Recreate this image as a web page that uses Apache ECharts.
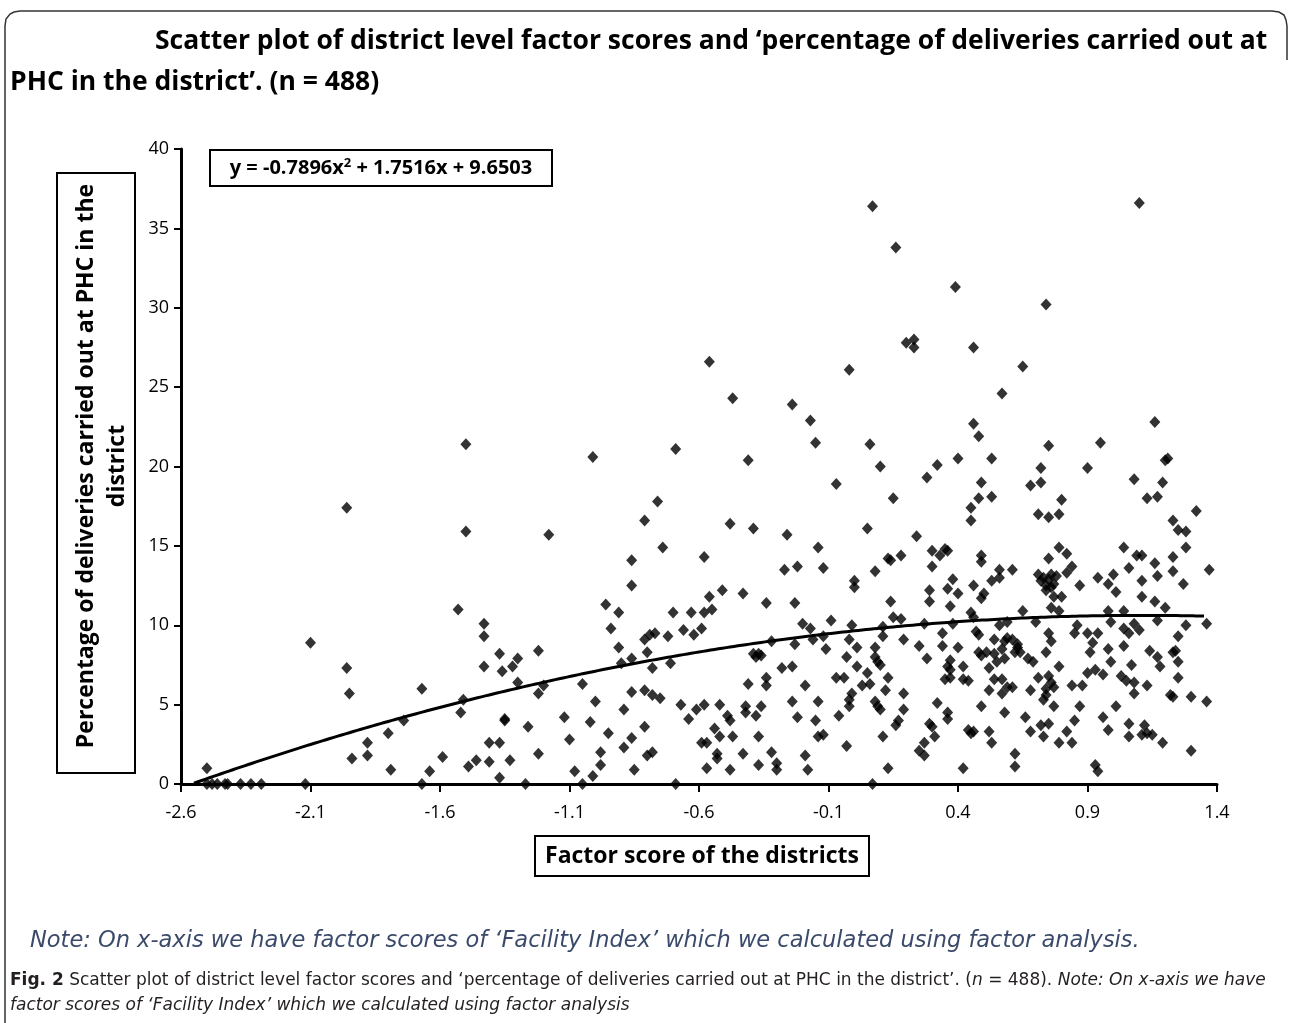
<!DOCTYPE html>
<html>
<head>
<meta charset="utf-8">
<script src="https://cdn.jsdelivr.net/npm/echarts@6/dist/echarts.min.js"></script>
<style>
  html, body { margin: 0; padding: 0; background: #fff; }
  #chart { width: 1290px; height: 1023px; }
</style>
</head>
<body>
<div id="chart"></div>
<script>
// factor score of the district (x) and % of deliveries at PHC (y)
const factorScore = [
  -2.50, -2.50, -2.48, -2.46, -2.43, -2.42, -2.37, -2.33, -2.29, -2.12, -2.10,
  -1.96, -1.96, -1.95, -1.94, -1.88, -1.88, -1.80, -1.79, -1.74, -1.67, -1.67, -1.64, -1.59,
  -1.53, -1.50, -1.50, -1.52, -1.51, -1.49, -1.46, -1.43, -1.43, -1.43, -1.41, -1.41,
  -1.37, -1.37, -1.37, -1.36, -1.35, -1.35, -1.33, -1.32, -1.30, -1.30,
  -1.27, -1.26, -1.22, -1.22, -1.20, -1.22, -1.18, -1.12, -1.10, -1.08, -1.05, -1.05,
  -1.02, -1.01, -1.00, -1.01, -0.98, -0.98, -0.96, -0.95, -0.94, -0.91, -0.91, -0.90,
  -0.89, -0.89, -0.86, -0.86, -0.86, -0.86, -0.86, -0.85, -0.81, -0.81, -0.79, -0.77,
  -0.76, -0.80, -0.78, -0.81, -0.78, -0.75, -0.81, -0.80, -0.78, -0.74, -0.72, -0.71,
  -0.70, -0.69, -0.69, -0.67, -0.66, -0.64, -0.63, -0.62, -0.61, -0.59, -0.59, -0.58,
  -0.58, -0.57, -0.57, -0.58, -0.56, -0.55, -0.54, -0.53, -0.53, -0.52, -0.52, -0.51,
  -0.48, -0.49, -0.48, -0.48, -0.47, -0.47, -0.43, -0.43, -0.42, -0.42, -0.41, -0.41,
  -0.39, -0.38, -0.37, -0.36, -0.39, -0.38, -0.37, -0.37, -0.36, -0.34, -0.34, -0.34,
  -0.32, -0.32, -0.30, -0.30, -0.28, -0.27, -0.26, -0.24, -0.24, -0.24, -0.23, -0.23,
  -0.22, -0.22, -0.20, -0.19, -0.19, -0.18, -0.17, -0.17, -0.16, -0.15, -0.14, -0.14,
  -0.15, -0.14, -0.12, -0.12, -0.11, -0.12, -0.56,
  -0.09, -0.07, -0.07, -0.04, -0.06, -0.03, -0.03, -0.02, -0.02, 0.00, 0.00,
  0.07, 0.16, 0.39, 0.74, 1.10, 0.20, 0.23, 0.23, 0.46, 0.65, 0.57, 0.46, 0.48, 0.06,
  0.75, 0.95, 1.16, 0.40, 0.53, 1.21, 0.10, 0.15, 0.05, 0.32, 0.28, 0.49, 0.48, 0.53,
  0.45, 0.45, 0.24, 0.30, 0.33, 0.35, 0.36, 0.13, 0.14, 0.18, 0.08, 0.30, 0.49, 0.49,
  0.14, 0.15, 0.18, 0.29, 0.29, 0.36, 0.38, 0.40, 0.37, 0.46, 0.50, 0.49,
  0.56, 0.53, 0.56, 0.61, 0.45, 0.46, 0.65, -0.01, 0.11, 0.11, 0.27, 0.38, 0.34, 0.47,
  0.48, 0.56, 0.59, 0.01, 0.19, 0.25, 0.34, 0.40, 0.54, 0.48, 0.49, 0.51, 0.54, 0.58,
  0.59, 0.57, 0.63, 0.67, 0.08, 0.08, 0.09, 0.10, 0.01, 0.28, 0.37, 0.36, 0.37, 0.42,
  0.58, 0.55, 0.52, 0.05, 0.13, 0.03, 0.06, 0.35, 0.37, 0.42, 0.44, 0.54, 0.57, 0.59,
  0.52, 0.57, 0.12, 0.19, -0.01, -0.02, -0.02, 0.08, 0.09, 0.10, 0.19, 0.32, 0.36, 0.36,
  0.49, 0.58, 0.17, 0.16, 0.29, 0.30, 0.31, 0.44, 0.45, 0.46, 0.52, 0.11, 0.27, 0.25,
  0.27, 0.53, 0.62, 0.13, 0.42, 0.62, 0.07,
  0.72, 0.90, 1.20, 0.68, 0.72, 1.08, 1.19, 1.13, 1.17, 0.80, 0.71, 0.75, 0.79, 1.32,
  1.23, 1.25, 1.28, 0.79, 0.82, 1.04, 1.09, 1.11, 1.28, 1.23, 0.75, 0.84, 1.06, 1.16,
  1.37, 0.71, 0.72, 0.73, 0.74, 0.75, 0.76, 0.77, 0.78, 0.74, 0.76, 0.82, 0.87, 0.94,
  1.00, 0.98, 1.01, 1.11, 1.17, 1.23, 1.27, 0.77, 0.80, 0.76, 0.79, 1.11, 1.16, 1.20,
  0.98, 1.04, 0.70, 0.99, 1.17, 1.28, 1.36, 0.86, 0.85, 0.90, 0.94, 1.04, 1.06, 1.08,
  1.10, 0.75, 0.76, 0.92, 0.91, 0.98, 1.04, 1.25, 1.24, 1.23, 1.14, 1.17, 1.18, 0.61,
  0.63, 0.62, 0.64, 0.69, 0.74, 0.99, 1.07, 1.25, 0.79, 0.90, 0.93, 0.96, 1.03, 1.05,
  1.08, 1.25, 0.71, 0.75, 0.76, 0.77, 0.61, 0.68, 0.74, 0.74, 0.73, 0.84, 0.88, 1.08,
  1.13, 1.22, 1.23, 1.30, 1.36, 0.77, 0.87, 1.01, 0.66, 0.72, 0.75, 0.85, 0.96, 0.68,
  0.73, 0.82, 0.98, 1.06, 1.06, 1.12, 1.11, 1.13, 1.15, 1.19, 0.79, 0.84, 1.30, 0.93, 0.94
];
const phcPct = [
  1.0, 0, 0, 0, 0, 0, 0, 0, 0, 0, 8.9,
  17.4, 7.3, 5.7, 1.6, 2.6, 1.8, 3.2, 0.9, 4.0, 6.0, 0, 0.8, 1.7,
  11.0, 21.4, 15.9, 4.5, 5.3, 1.1, 1.5, 10.1, 9.3, 7.4, 2.6, 1.4,
  0.4, 8.2, 2.6, 7.1, 4.1, 4.0, 1.5, 7.4, 7.9, 6.4,
  0, 3.6, 8.4, 5.7, 6.2, 1.9, 15.7, 4.2, 2.8, 0.8, 6.3, 0,
  3.9, 20.6, 5.2, 0.5, 2.0, 1.2, 11.3, 3.2, 9.8, 10.8, 8.6, 7.6,
  4.7, 2.3, 12.5, 14.1, 7.9, 5.8, 2.9, 0.9, 16.6, 9.1, 9.4, 9.5,
  17.8, 8.3, 7.3, 5.9, 5.6, 5.4, 3.6, 1.8, 2.0, 14.9, 9.3, 7.6,
  10.8, 0, 21.1, 5.0, 9.7, 4.1, 10.8, 9.4, 4.7, 9.8, 2.6, 10.8,
  14.3, 2.6, 1.0, 5.0, 11.8, 11.0, 3.5, 1.9, 1.6, 5.0, 3.0, 12.2,
  4.0, 4.3, 0.9, 16.4, 24.3, 3.0, 12.0, 1.9, 4.9, 4.5, 20.4, 6.3,
  8.2, 8.0, 8.2, 8.1, 16.1, 4.3, 3.0, 1.2, 4.9, 6.7, 11.4, 6.2,
  2.0, 9.0, 1.3, 0.9, 7.3, 13.5, 15.7, 23.9, 5.2, 7.4, 11.4, 8.8,
  13.7, 4.2, 10.1, 6.2, 1.8, 0.9, 22.9, 9.8, 9.1, 21.5, 14.9, 5.2,
  4.0, 3.0, 13.6, 9.3, 8.5, 3.1, 26.6,
  10.3, 18.9, 6.7, 6.7, 4.3, 2.4, 8.0, 9.1, 26.1, 12.8, 12.4,
  36.4, 33.8, 31.3, 30.2, 36.6, 27.8, 28.0, 27.5, 27.5, 26.3, 24.6, 22.7, 21.9, 21.4,
  21.3, 21.5, 22.8, 20.5, 20.5, 20.5, 20.0, 18.0, 16.1, 20.1, 19.3, 19.0, 18.0, 18.1,
  17.4, 16.6, 15.6, 14.7, 14.4, 14.8, 14.7, 14.2, 14.1, 14.4, 13.4, 13.7, 14.4, 14.0,
  11.5, 10.5, 10.4, 12.2, 11.5, 12.3, 12.9, 12.0, 11.2, 12.5, 12.0, 11.7,
  13.5, 12.8, 13.0, 13.5, 10.8, 10.5, 10.9, 10.0, 9.9, 9.3, 10.1, 10.1, 9.5, 9.6,
  9.4, 10.0, 10.2, 8.6, 9.1, 8.7, 8.7, 8.6, 9.1, 8.3, 8.1, 8.3, 8.2, 9.0,
  9.2, 8.5, 8.6, 7.9, 8.6, 8.0, 7.7, 7.5, 7.4, 7.9, 7.8, 7.4, 7.2, 7.4,
  7.9, 7.7, 7.3, 7.0, 6.7, 6.2, 6.3, 6.6, 6.7, 6.6, 6.5, 6.6, 6.6, 6.1,
  5.9, 5.7, 5.9, 5.7, 5.7, 5.3, 4.9, 5.2, 4.9, 4.7, 4.7, 5.1, 4.5, 4.1,
  4.9, 4.5, 4.0, 3.7, 3.8, 3.6, 3.0, 3.4, 3.2, 3.3, 3.3, 3.0, 2.6, 2.1,
  1.8, 2.6, 1.9, 1.0, 1.0, 1.1, 0.0,
  19.9, 19.9, 20.4, 18.8, 19.0, 19.2, 19.0, 18.0, 18.1, 17.9, 17.0, 16.8, 17.0, 17.2,
  16.6, 16.0, 15.9, 14.9, 14.5, 14.9, 14.4, 14.4, 14.9, 14.3, 14.2, 13.7, 13.6, 13.9,
  13.5, 13.2, 12.8, 13.0, 12.5, 12.9, 13.2, 12.6, 13.1, 12.2, 12.4, 13.3, 12.5, 13.0,
  13.2, 12.6, 12.1, 12.8, 13.1, 13.4, 12.6, 11.8, 11.8, 11.1, 10.9, 11.8, 11.5, 11.1,
  10.9, 10.9, 10.2, 10.2, 10.3, 10.0, 10.1, 10.0, 9.5, 9.5, 9.5, 9.8, 9.5, 10.1,
  9.7, 9.5, 9.0, 8.9, 8.3, 8.5, 8.7, 9.3, 8.4, 8.3, 8.4, 8.0, 7.4, 9.1,
  8.8, 8.3, 8.3, 7.7, 8.3, 7.7, 7.5, 7.7, 7.4, 7.0, 7.2, 6.9, 6.8, 6.5,
  6.4, 6.7, 6.7, 6.8, 6.4, 6.1, 6.1, 5.9, 6.0, 5.6, 5.3, 6.2, 6.2, 5.7,
  6.2, 5.6, 5.5, 5.5, 5.2, 4.9, 4.9, 4.9, 4.2, 3.7, 3.8, 4.0, 4.2, 3.3,
  3.0, 3.3, 3.4, 3.8, 3.0, 3.7, 3.1, 3.2, 3.1, 2.6, 2.6, 2.6, 2.1, 1.2, 0.8
];
const xTicks = [-2.6, -2.1, -1.6, -1.1, -0.6, -0.1, 0.4, 0.9, 1.4];
const yTicks = [0, 5, 10, 15, 20, 25, 30, 35, 40];
// polynomial trend shown in the figure: y = a x^2 + b x + c
const trendCoef = { a: -0.7896, b: 1.7516, c: 9.6503 };
const trendRange = [-2.55, 1.36];

const chart = echarts.init(document.getElementById("chart"));

let points = factorScore.map((x, i) => [x, phcPct[i]]);
let trend = [];
for (let x = trendRange[0]; x <= trendRange[1] + 1e-9; x += 0.03) {
  trend.push([x, trendCoef.a * x * x + trendCoef.b * x + trendCoef.c]);
}

const FONT = "Open Sans";

let option = {
  backgroundColor: "#fff",
  animation: false,
  grid: { left: 181, right: 73, top: 149, bottom: 239 },
  xAxis: {
    type: "value",
    min: xTicks[0],
    max: xTicks[xTicks.length - 1],
    interval: 0.5,
    axisLine: { onZero: false, lineStyle: { color: "#000", width: 3 } },
    axisTick: { show: true, inside: false, length: 8, lineStyle: { color: "#000", width: 2 } },
    axisLabel: {
      color: "#000", fontFamily: FONT, fontSize: 18, margin: 20,
      formatter: v => v.toFixed(1)
    },
    splitLine: { show: false }
  },
  yAxis: {
    type: "value",
    min: yTicks[0],
    max: yTicks[yTicks.length - 1],
    interval: yTicks[1] - yTicks[0],
    axisLine: { show: true, onZero: false, lineStyle: { color: "#000", width: 3 } },
    axisTick: { show: true, inside: false, length: 7, lineStyle: { color: "#000", width: 2 } },
    axisLabel: { color: "#000", fontFamily: FONT, fontSize: 18, margin: 12 },
    splitLine: { show: false }
  },
  series: [
    {
      type: "scatter",
      data: points,
      symbol: "diamond",
      symbolSize: [11, 12],
      itemStyle: { color: "#000" },
      z: 3
    },
    {
      type: "line",
      data: trend,
      showSymbol: false,
      smooth: true,
      lineStyle: { color: "#000", width: 3 },
      z: 4
    }
  ],
  graphic: [
    // outer frame
    {
      type: "polyline",
      shape: {
        points: [[5, 1023], [5, 26], [6, 19], [10, 14], [14, 12], [20, 11], [1272, 11],
                 [1279, 12], [1284, 15], [1286, 20], [1287, 26], [1287, 60]]
      },
      style: { fill: null, stroke: "#333", lineWidth: 1.5 }
    },
    {
      type: "text", left: 155, top: 28,
      style: {
        text: "Scatter plot of district level factor scores and \u2018percentage of deliveries carried out at",
        font: "bold 26.5px 'Open Sans'", fill: "#000"
      }
    },
    {
      type: "text", left: 10, top: 69,
      style: {
        text: "PHC in the district\u2019. (n = 488)",
        font: "bold 26.5px 'Open Sans'", fill: "#000"
      }
    },
    // trend equation box
    {
      type: "rect", shape: { x: 210, y: 150, width: 342, height: 36 },
      style: { fill: "#fff", stroke: "#000", lineWidth: 2 }, z: 10
    },
    {
      type: "text", x: 381, y: 168, z: 11,
      style: {
        rich: { s: { font: "bold 13px 'Open Sans'", verticalAlign: "top", padding: [0, 0, 9, 0] } },
        text: "y = -0.7896x{s|2} + 1.7516x + 9.6503",
        font: "bold 20px 'Open Sans'", fill: "#000", align: "center", verticalAlign: "middle"
      }
    },
    // y axis title box
    {
      type: "rect", shape: { x: 57, y: 173, width: 78, height: 600 },
      style: { fill: "#fff", stroke: "#000", lineWidth: 2 }
    },
    {
      type: "text", x: 102, y: 466, rotation: Math.PI / 2,
      style: {
        text: "Percentage of deliveries carried out at PHC in the\ndistrict",
        font: "bold 23px 'Open Sans'", fill: "#000", align: "center", verticalAlign: "middle",
        lineHeight: 31
      }
    },
    // x axis title box
    {
      type: "rect", shape: { x: 535, y: 836, width: 334, height: 40 },
      style: { fill: "#fff", stroke: "#000", lineWidth: 2 }
    },
    {
      type: "text", x: 702, y: 856,
      style: {
        text: "Factor score of the districts",
        font: "bold 23px 'Open Sans'", fill: "#000", align: "center", verticalAlign: "middle"
      }
    },
    // note + caption
    {
      type: "text", left: 30, top: 930,
      style: {
        text: "Note: On x-axis we have factor scores of \u2018Facility Index\u2019 which we calculated using factor analysis.",
        font: "oblique 22.5px 'DejaVu Sans'", fill: "#3b4a6b"
      }
    },
    {
      type: "text", left: 10, top: 968,
      style: {
        text: "{b|Fig. 2} Scatter plot of district level factor scores and \u2018percentage of deliveries carried out at PHC in the district\u2019. ({i|n} = 488). {i|Note: On x-axis we have}\n{i|factor scores of \u2018Facility Index\u2019 which we calculated using factor analysis}",
        font: "17px 'DejaVu Sans'", fill: "#231f20", lineHeight: 25,
        rich: {
          b: { font: "bold 17px 'DejaVu Sans'", fill: "#231f20", lineHeight: 25 },
          i: { font: "oblique 17px 'DejaVu Sans'", fill: "#231f20", lineHeight: 25 }
        }
      }
    }
  ]
};

chart.setOption(option);
</script>
</body>
</html>
